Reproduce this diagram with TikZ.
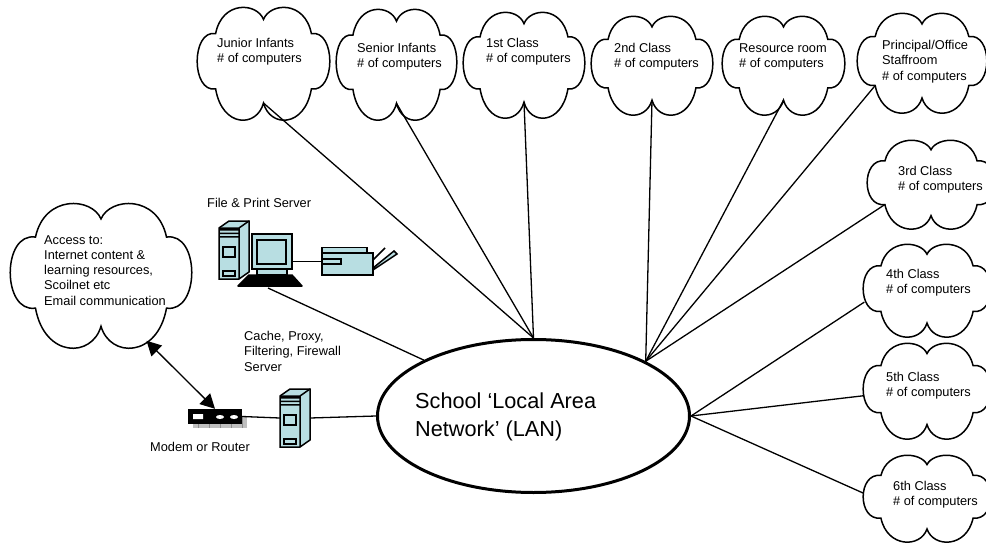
\documentclass[tikz,border=0pt]{standalone}
\usepackage{fontspec}
\setmainfont{Liberation Sans}
\usepackage{tikz}
\usetikzlibrary{shapes.geometric, arrows.meta}
\definecolor{srvblue}{HTML}{B8DEE2}
\tikzset{
    pics/tower/.style={code={
        \node[inner sep=0, minimum width=30pt, minimum height=58pt] (-body) at (15,29) {};
        \draw[srvline, fill=srvblue] (0,7) -- (10,0) -- (30,0) -- (30,51) -- (20,58) -- (0,58) -- cycle;
        \draw[srvline] (0,7) -- (20,7) -- (30,0) (20,7) -- (20,58);
        \fill (0,7) rectangle (20,9.5) (0,11.5) rectangle (20,13) (0,15) rectangle (20,16.5);
        \draw[srvline] (4,26) rectangle (16,36) (4,55) -- (16,55) -- (16,50) -- (4,50) -- cycle;
    }},
    pics/puffy/.style 2 args={code={
        \begin{scope}[xscale=#1, yscale=#2]
        \draw[puffline, fill=white] (0,-.78)
            .. controls (.1,-1.08) and (.62,-1.12) .. (.72,-.53)
            .. controls (1.09,-.6) and (1.09,.52) .. (.72,.45)
            .. controls (.62,1.14) and (.1,1.14) .. (0,.7)
            .. controls (-.1,1.14) and (-.62,1.14) .. (-.72,.45)
            .. controls (-1.09,.52) and (-1.09,-.6) .. (-.72,-.53)
            .. controls (-.62,-1.12) and (-.1,-1.08) .. (0,-.78) -- cycle;
        \coordinate (-s) at (0,.7);
        \coordinate (-sw) at (-.72,.45);
        \coordinate (-se) at (.5,.9);
        \coordinate (-wu) at (-.99,-.12);
        \coordinate (-w) at (-1,.1);
        \coordinate (-wl) at (-.98,.25);
        \end{scope}
    }}
}
\begin{document}
\begin{tikzpicture}[
        x=1pt, y=-1pt,
        srvline/.style={line width=1.5pt},
        puffline/.style={line width=1.5pt},
        lbl/.style={anchor=north west, inner sep=0, align=left, font=\fontsize{12.8}{15.3}\selectfont},
        link/.style={line width=1.3pt}
        ]
        \useasboundingbox (0,0) rectangle (986,543);
        % Clouds
        \pic (jinf) at (263.5,63.5) {puffy={66.5}{56.5}};
        \pic (sinf) at (396.5,64.5) {puffy={60.5}{55.5}};
        \pic (cls1) at (524,65) {puffy={61}{53}};
        \pic (cls2) at (652,65.5) {puffy={61}{49.5}};
        \pic (res) at (783.5,65.5) {puffy={61.5}{49.5}};
        \pic (prin) at (922,63) {puffy={65}{50}};
        \pic (cls3) at (931,184.5) {puffy={64}{44.5}};
        \pic (cls4) at (927,290.5) {puffy={64}{46.5}};
        \pic (cls5) at (927,391) {puffy={64}{48}};
        \pic (cls6) at (927,498.5) {puffy={64}{43.5}};
        \pic (acc) at (101,275.5) {puffy={91}{72.5}};
        \node (lan) [ellipse, draw, line width=3pt, minimum width=312pt, minimum height=153pt, inner sep=0] at (533.5,416) {};

        % Labels
        \node (ljinf) [lbl] at (217,38) {Junior Infants\\\# of computers};
        \node (lsinf) [lbl] at (357,43) {Senior Infants\\\# of computers};
        \node (lcls1) [lbl] at (486,38) {1st Class\\\# of computers};
        \node (lcls2) [lbl] at (614,43) {2nd Class\\\# of computers};
        \node (lres) [lbl] at (739,43) {Resource room\\\# of computers};
        \node (lprin) [lbl] at (882,40) {Principal/Office\\Staffroom\\\# of computers};
        \node (lcls3) [lbl] at (898,166) {3rd Class\\\# of computers};
        \node (lcls4) [lbl] at (886,269) {4th Class\\\# of computers};
        \node (lcls5) [lbl] at (886,372) {5th Class\\\# of computers};
        \node (lcls6) [lbl] at (893,481) {6th Class\\\# of computers};
        \node (lacc) [lbl] at (44,235) {Access to:\\Internet content \&\\learning resources,\\Scoilnet etc\\Email communication};
        \node (lfile) [lbl] at (207,198) {File \& Print Server};
        \node (lcache) [lbl] at (244,331) {Cache, Proxy,\\Filtering, Firewall\\Server};
        \node (lmdm) [lbl] at (150,442) {Modem or Router};
        \node (llan) [lbl, font=\fontsize{21.7}{27.5}\selectfont] at (415,393) {School ‘Local Area\\Network’ (LAN)};

        % Servers
        \pic (fsrv) at (219,221) {tower};
        \pic (csrv) at (280,389) {tower};
        \node (mon) [rectangle, draw, srvline, fill=srvblue, inner sep=0, minimum width=40pt, minimum height=35pt] at (272,251.5) {};
        \node (scr) [rectangle, draw, srvline, fill=srvblue, inner sep=0, minimum width=29pt, minimum height=24pt] at (271.5,252) {};
        \node (stand) [rectangle, draw, srvline, fill=srvblue, inner sep=0, minimum width=30pt, minimum height=6pt] at (272,272) {};
        \coordinate (kbd) at (268,288);
        \fill[draw=black, srvline, line join=round] (238,286) -- (249,275) -- (292,275) -- (302,286) -- cycle;

        % Printer
        \node (prntop) [rectangle, draw, srvline, fill=srvblue, inner sep=0, minimum width=45pt, minimum height=6pt] at (344.5,250.5) {};
        \node (prn) [rectangle, draw, srvline, fill=srvblue, inner sep=0, minimum width=51pt, minimum height=22pt] at (347.5,264) {};
        \node (prnslot) [rectangle, draw, srvline, fill=srvblue, inner sep=0, minimum width=19pt, minimum height=5pt] at (331.5,261.5) {};
        \draw[srvline] (373,260) -- (385,248);
        \draw[srvline, fill=srvblue] (373,268) -- (394,251) -- (397,254) -- (373,270) -- cycle;

        % Modem
        \fill[black!25] (193,417) rectangle (247,428);
        \draw[black!45, line width=0.4pt] (193,417) grid[xstep=11,ystep=5.5] (247,428);
        \node (mdm) [rectangle, fill=black, inner sep=0, minimum width=54pt, minimum height=15pt] at (215,416.5) {};
        \fill[white] (193,414) rectangle (203,419) (220,417) ellipse [x radius=4, y radius=2] (234,417) ellipse [x radius=4, y radius=2];

        % Arrows
        \draw[link] (jinf-s) -- (lan.north);
        \draw[link] (sinf-s) -- (lan.north);
        \draw[link] (cls1-s) -- (lan.north);
        \draw[link] (cls2-s) -- (lan.26.6);
        \draw[link] (res-s) -- (lan.26.6);
        \draw[link] (prin-sw) -- (lan.26.6);
        \draw[link] (cls3-sw) -- (lan.26.6);
        \draw[link] (cls4-wl) -- (lan.east);
        \draw[link] (cls5-w) -- (lan.east);
        \draw[link] (cls6-wu) -- (lan.east);
        \draw[link] (kbd) -- (lan.153);
        \draw[link] (csrv-body.east) -- (lan.west);
        \draw[link] (mdm.east) -- (csrv-body.west);
        \draw[link] (prnslot.west -| mon.east) -- (prnslot.west);
        \draw[link, {Triangle[length=14.5pt,width=15pt]}-{Triangle[length=14.5pt,width=15pt]}] (acc-se) -- (mdm.north);
    \end{tikzpicture}
\end{document}
